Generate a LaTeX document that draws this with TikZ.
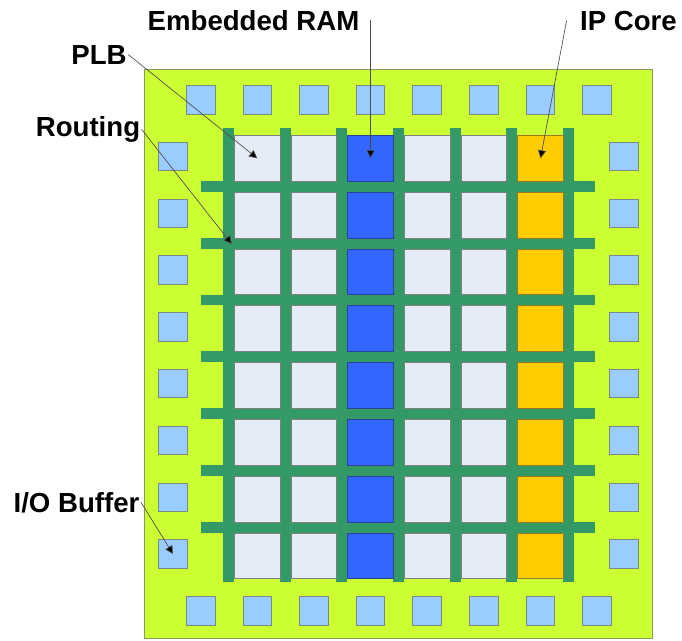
\documentclass[tikz,border=0pt]{standalone}
\usepackage{fontspec}
\setmainfont{Liberation Sans}
\usepackage{xcolor}
\usepackage{tikz}
\usetikzlibrary{arrows.meta, positioning, calc}

\definecolor{chipgreen}{HTML}{CCFF33}
\definecolor{chipedge}{HTML}{8A9A5B}
\definecolor{routegreen}{HTML}{339966}
\definecolor{padblue}{HTML}{99CCFF}
\definecolor{padedge}{HTML}{7A8A8A}
\definecolor{plbgrey}{HTML}{E6ECF6}
\definecolor{plbedge}{HTML}{808080}
\definecolor{ramblue}{HTML}{3366FF}
\definecolor{ramedge}{HTML}{2A4499}
\definecolor{ipyellow}{HTML}{FFCC00}
\definecolor{ipedge}{HTML}{9A7A20}

\begin{document}
\begin{tikzpicture}[x=0.75pt, y=-0.75pt,
    chip/.style={rectangle, draw=chipedge, fill=chipgreen, line width=0.8pt, anchor=north west, minimum width=381pt, minimum height=426.75pt, inner sep=0pt},
    pad/.style={rectangle, draw=padedge, fill=padblue, line width=0.6pt, anchor=north west, minimum size=21.4pt, inner sep=0pt},
    plb/.style={rectangle, draw=plbedge, fill=plbgrey, line width=0.6pt, anchor=north west, minimum size=34.3pt, inner sep=0pt},
    ram/.style={plb, draw=ramedge, fill=ramblue},
    ipcore/.style={plb, draw=ipedge, fill=ipyellow},
    wire/.style={fill=routegreen},
    callout/.style={font=\fontsize{20.7}{24}\selectfont\bfseries, inner sep=1pt},
    pointer/.style={draw=black!70, line width=0.5pt, -{Triangle[length=6pt, width=6pt, fill=black]}}
]
    \useasboundingbox (0,0) rectangle (682,640);

    % die
    \node [chip] (die) at (144,69) {};

    % I/O buffers round the die
    \foreach \k in {0,...,7} {
        \node [pad] (top-\k) at ({186+56.6*\k},85) {};
        \node [pad] (bot-\k) at ({186+56.6*\k},596) {};
        \node [pad] (left-\k) at (158.3,{141.7+56.8*\k}) {};
        \node [pad] (right-\k) at (609.3,{141.7+56.8*\k}) {};
    }

    % routing channels
    \foreach \k in {0,...,6}
        \fill [wire] ({223+56.65*\k},128) rectangle ++(11,454);
    \foreach \j in {0,...,6}
        \fill [wire] (200.7,{181+56.8*\j}) rectangle ++(394.3,10.8);

    % logic blocks, RAM and IP columns
    \foreach \c/\kind in {0/plb,1/plb,2/ram,3/plb,4/plb,5/ipcore}
        \foreach \r in {0,...,7}
            \node [\kind] (cell-\c-\r) at ({234+56.65*\c},{135+56.8*\r}) {};

    \coordinate (wirept) at (231.7,244);

    % labels
    \node [callout, anchor=base] (ramlbl) at (253.5,30) {Embedded RAM};
    \node [callout, anchor=base] (iplbl) at (628.5,30) {IP Core};
    \node [callout, anchor=base] (plblbl) at (99,64) {PLB};
    \node [callout, anchor=base] (routelbl) at (88,136.5) {Routing};
    \node [callout, anchor=base] (iolbl) at (76.5,512) {I/O Buffer};

    \path [pointer] (ramlbl.east -| cell-2-0.center) -- (cell-2-0.center);
    \path [pointer] ([xshift=-9pt]iplbl.west) -- (cell-5-0.center);
    \path [pointer] (plblbl.east) -- (cell-0-0.center);
    \path [pointer] (routelbl.east) -- (wirept);
    \path [pointer] (iolbl.east) -- (left-7.center);
\end{tikzpicture}
\end{document}
